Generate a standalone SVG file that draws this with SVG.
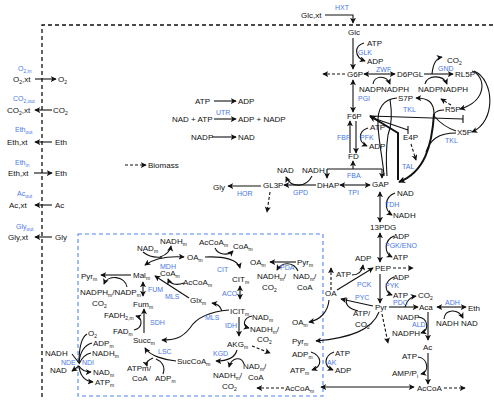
<svg xmlns="http://www.w3.org/2000/svg" width="494" height="401" viewBox="0 0 494 401">
<style>
text{font-family:"Liberation Sans",Arial,sans-serif;font-size:8px;fill:#111}
text.b{font-size:7px;fill:#4a78e6}
.s{font-size:5px}
.ln{fill:none;stroke:#111;stroke-width:1.1}
.tk{stroke-width:2}
.d{stroke-dasharray:3,2}
.box{fill:none;stroke:#4f86ee;stroke-width:1.1;stroke-dasharray:4,3}
.bd{fill:none;stroke:#111;stroke-width:1.3;stroke-dasharray:4,3}
</style>
<defs>
<marker id="a" viewBox="0 0 8 8" refX="7" refY="4" markerWidth="6" markerHeight="6" orient="auto-start-reverse" markerUnits="userSpaceOnUse"><path d="M0,0 L8,4 L0,8 L2,4 z" fill="#111"/></marker>
<marker id="at" viewBox="0 0 8 8" refX="7" refY="4" markerWidth="7" markerHeight="7" orient="auto-start-reverse" markerUnits="userSpaceOnUse"><path d="M0,0 L8,4 L0,8 L2,4 z" fill="#111"/></marker>
</defs>
<rect width="494" height="401" fill="#fff"/>
<path class="bd" d="M42,397 V25 H494"/>
<rect class="box" x="78" y="234" width="245" height="162"/>

<g id="connectors">
<path class="ln" d="M325,15 H353 V23" marker-end="url(#a)"/>
<path class="ln" d="M353,38 V69" marker-end="url(#a)"/>
<path class="ln" d="M364,43 C354,46 354,57 365,61" marker-end="url(#a)"/>
<path class="ln d" d="M345,74 H323" marker-end="url(#a)"/>
<path class="ln" d="M364,74 H395" marker-start="url(#a)" marker-end="url(#a)"/>
<path class="ln" d="M373,84 C374,76 386,74 390,84" marker-end="url(#a)"/>
<path class="ln" d="M424,74 H453" marker-end="url(#a)"/>
<path class="ln" d="M432,74 C433,64 436,58 442,57" marker-end="url(#a)"/>
<path class="ln" d="M425,84 C427,75 443,74 447,84" marker-end="url(#a)"/>
<path class="ln" d="M472,71 C486,76 488,101 460,109" marker-end="url(#a)"/>
<path class="ln" d="M474,71 C495,80 496,122 472,132" marker-end="url(#a)"/>
<path class="ln" d="M353,80 V112" marker-start="url(#a)" marker-end="url(#a)"/>
<path class="ln d" d="M451,105 L441,99" marker-end="url(#a)"/>
<path class="ln" d="M434,114 C434,102 428,98 416,98" marker-end="url(#a)"/>
<path class="ln" d="M444,110 C440,110 436,111 434,114"/>
<path class="ln" d="M456,131 C447,128 440,123 434,116"/>
<path class="ln tk" d="M434,114 C432,145 425,172 399,182" marker-end="url(#at)"/>
<path class="ln" d="M456,133 C438,133 430,140 426,152"/>
<path class="ln tk" d="M370,116 L398,133 L398,180" marker-start="url(#at)"/>
<path class="ln" d="M370,116 L463,119 M463,115 V123"/>
<path class="ln" d="M370,117 L408,130 M408,126 V134"/>
<path class="ln" d="M397,98 C384,99 377,108 378,125 C379,145 383,160 384,176"/>
<path class="ln" d="M390,99 C392,112 392,125 388,135 C386,148 386,162 387,176"/>
<path class="ln d" d="M411,144 L416,160" marker-end="url(#a)"/>
<path class="ln" d="M350,153 V121" marker-end="url(#a)"/>
<path class="ln" d="M356,121 V153" marker-end="url(#a)"/>
<path class="ln" d="M368,128 C358,131 358,142 367,146" marker-end="url(#a)"/>
<path class="ln" d="M353,169 V161" marker-end="url(#a)"/>
<path class="ln" d="M327,169 H382"/>
<path class="ln" d="M327,169 V178" marker-end="url(#a)"/>
<path class="ln" d="M382,169 V178" marker-end="url(#a)"/>
<path class="ln" d="M340,185 H370" marker-start="url(#a)" marker-end="url(#a)"/>
<path class="ln" d="M316,185 H284" marker-end="url(#a)"/>
<path class="ln" d="M312,176 C306,188 291,188 286,177" marker-end="url(#a)"/>
<path class="ln" d="M261,186 H228" marker-end="url(#a)"/>
<path class="ln d" d="M270,192 L267,212" marker-end="url(#a)"/>
<path class="ln" d="M380,192 V222" marker-start="url(#a)" marker-end="url(#a)"/>
<path class="ln" d="M395,193 C384,197 384,210 392,215" marker-end="url(#a)"/>
<path class="ln" d="M380,233 V262" marker-start="url(#a)" marker-end="url(#a)"/>
<path class="ln" d="M394,236 C384,240 384,253 392,257" marker-end="url(#a)"/>
<path class="ln d" d="M393,268 H413" marker-end="url(#a)"/>
<path class="ln" d="M337,290 L373,268" marker-end="url(#a)"/>
<path class="ln" d="M352,275 C358,275 362,272 363,265" marker-end="url(#a)"/>
<path class="ln d" d="M331,290 V268" marker-end="url(#a)"/>
<path class="ln" d="M380,274 V303" marker-end="url(#a)"/>
<path class="ln" d="M394,277 C384,281 384,292 392,295" marker-end="url(#a)"/>
<path class="ln" d="M373,306 L341,299" marker-end="url(#a)"/>
<path class="ln" d="M358,311 C350,309 344,305 347,298"/>
<path class="ln" d="M389,307 H418" marker-end="url(#a)"/>
<path class="ln" d="M405,307 C407,300 410,297 416,296" marker-end="url(#a)"/>
<path class="ln" d="M437,307 H466" marker-start="url(#a)" marker-end="url(#a)"/>
<path class="ln" d="M444,319 C445,309 458,308 463,318" marker-end="url(#a)"/>
<path class="ln" d="M428,312 V340" marker-end="url(#a)"/>
<path class="ln" d="M418,317 C428,318 430,330 421,333" marker-end="url(#a)"/>
<path class="ln" d="M428,353 V384" marker-end="url(#a)"/>
<path class="ln" d="M418,357 C428,358 430,372 421,374" marker-end="url(#a)"/>
<path class="ln d" d="M444,388 H465" marker-end="url(#a)"/>
<path class="ln" d="M321,387 H414" marker-start="url(#a)" marker-end="url(#a)"/>
<path class="ln" d="M379,312 C372,330 350,338 316,341" marker-end="url(#a)"/>
<path class="ln d" d="M382,314 L388,343" marker-end="url(#a)"/>
<path class="ln" d="M329,300 C328,312 320,320 309,322" marker-end="url(#a)"/>
<path class="ln" d="M334,352 C324,356 323,366 333,370" marker-end="url(#a)"/>
<path class="ln" d="M311,352 C322,356 323,366 312,370" marker-end="url(#a)"/>
<path class="ln" d="M296,262 H270" marker-end="url(#a)"/>
<path class="ln" d="M298,271 C294,262 282,261 277,270" marker-end="url(#a)"/>
<path class="ln d" d="M284,388 H257" marker-end="url(#a)"/>
<path class="ln" d="M184,257 C170,256 155,258 145,265" marker-start="url(#a)" marker-end="url(#a)"/>
<path class="ln" d="M143,252 C148,256 155,258 162,257"/>
<path class="ln" d="M160,257 C166,255 170,252 171,246" marker-end="url(#a)"/>
<path class="ln" d="M205,257 C225,256 238,260 240,268" marker-end="url(#a)"/>
<path class="ln" d="M215,248 C218,255 228,256 233,251" marker-end="url(#a)"/>
<path class="ln" d="M131,275 H101" marker-end="url(#a)"/>
<path class="ln" d="M127,287 C125,276 108,274 104,284" marker-end="url(#a)"/>
<path class="ln" d="M189,298 L155,276" marker-end="url(#a)"/>
<path class="ln" d="M184,283 C176,286 170,284 168,279" marker-end="url(#a)"/>
<path class="ln" d="M143,282 V296" marker-start="url(#a)" marker-end="url(#a)"/>
<path class="ln" d="M144,333 V309" marker-end="url(#a)"/>
<path class="ln" d="M134,330 C143,328 143,318 136,316" marker-end="url(#a)"/>
<path class="ln" d="M240,286 V299" marker-start="url(#a)" marker-end="url(#a)"/>
<path class="ln" d="M229,310 C205,312 195,320 190,328 C182,338 175,340 162,340" marker-end="url(#a)"/>
<path class="ln" d="M222,311 C220,306 218,304 212,303" marker-end="url(#a)"/>
<path class="ln" d="M239,317 V336" marker-end="url(#a)"/>
<path class="ln" d="M252,316 C243,318 242,326 249,328" marker-end="url(#a)"/>
<path class="ln d" d="M252,346 L270,353" marker-end="url(#a)"/>
<path class="ln" d="M237,350 C235,358 228,361 216,361" marker-end="url(#a)"/>
<path class="ln" d="M244,364 C242,357 232,356 229,367" marker-end="url(#a)"/>
<path class="ln" d="M176,361 C165,360 150,356 145,348" marker-end="url(#a)"/>
<path class="ln" d="M163,374 C166,366 161,361 156,359"/>
<path class="ln" d="M153,358 C148,360 146,363 147,366" marker-end="url(#a)"/>
<path class="ln" d="M72,354 L79,363"/>
<path class="ln" d="M79,366 L72,371" marker-end="url(#a)"/>
<path class="ln" d="M79,363 C79,346 82,337 87,334"/>
<path class="ln" d="M79,363 C80,351 85,345 92,343"/>
<path class="ln" d="M79,364 C82,357 86,354 91,353"/>
<path class="ln" d="M79,366 C82,371 86,372 91,372" marker-end="url(#a)"/>
<path class="ln" d="M79,366 C80,376 84,381 93,382" marker-end="url(#a)"/>
<path class="ln" d="M35,79 H56" marker-end="url(#a)"/>
<path class="ln" d="M52,110 H35" marker-end="url(#a)"/>
<path class="ln" d="M52,142 H35" marker-end="url(#a)"/>
<path class="ln" d="M34,173 H52" marker-end="url(#a)"/>
<path class="ln" d="M52,205 H35" marker-end="url(#a)"/>
<path class="ln" d="M52,237 H35" marker-end="url(#a)"/>
<path class="ln d" d="M125,165 H146" marker-end="url(#a)"/>
<path class="ln" d="M214,101 H236" marker-end="url(#a)"/>
<path class="ln" d="M214,119 H236" marker-end="url(#a)"/>
<path class="ln" d="M212,137 H236" marker-end="url(#a)"/>
</g>

<g id="cytosol">
<g id="n-glcxt"><text x="301" y="18">Glc,xt</text></g>
<g id="l-hxt"><text class="b" x="335" y="10">HXT</text></g>
<g id="n-glc"><text x="348" y="35">Glc</text></g>
<g id="n-atp1"><text x="367" y="46">ATP</text></g>
<g id="l-glk"><text class="b" x="358" y="55">GLK</text></g>
<g id="n-adp1"><text x="367" y="64">ADP</text></g>
<g id="l-zwf"><text class="b" x="376" y="72">ZWF</text></g>
<g id="n-g6p"><text x="347" y="77">G6P</text></g>
<g id="n-d6pgl"><text x="397" y="77">D6PGL</text></g>
<g id="n-nadp1"><text x="359" y="92">NADP</text></g>
<g id="n-nadph1"><text x="381" y="92">NADPH</text></g>
<g id="l-gnd"><text class="b" x="438" y="71">GND</text></g>
<g id="n-co2a"><text x="447" y="63">CO<tspan class="s" dy="1.5">2</tspan></text></g>
<g id="n-rl5p"><text x="455" y="77">RL5P</text></g>
<g id="n-nadp2"><text x="418" y="92">NADP</text></g>
<g id="n-nadph2"><text x="440" y="92">NADPH</text></g>
<g id="l-pgi"><text class="b" x="358" y="101">PGI</text></g>
<g id="n-s7p"><text x="398" y="101">S7P</text></g>
<g id="l-tkl1"><text class="b" x="403" y="112">TKL</text></g>
<g id="n-r5p"><text x="445" y="112">R5P</text></g>
<g id="n-f6p"><text x="347" y="119">F6P</text></g>
<g id="n-x5p"><text x="457" y="135">X5P</text></g>
<g id="l-tkl2"><text class="b" x="445" y="143">TKL</text></g>
<g id="n-e4p"><text x="403" y="140">E4P</text></g>
<g id="n-atp2"><text x="370" y="130">ATP</text></g>
<g id="l-pfk"><text class="b" x="360" y="140">PFK</text></g>
<g id="l-fbp"><text class="b" x="337" y="140">FBP</text></g>
<g id="n-adp2"><text x="369" y="149">ADP</text></g>
<g id="n-fd"><text x="348" y="159">FD</text></g>
<g id="l-fba"><text class="b" x="347" y="178">FBA</text></g>
<g id="l-tal"><text class="b" x="402" y="169">TAL</text></g>
<g id="n-gap"><text x="372" y="187">GAP</text></g>
<g id="n-dhap"><text x="317" y="188">DHAP</text></g>
<g id="l-tpi"><text class="b" x="348" y="195">TPI</text></g>
<g id="n-gl3p"><text x="263" y="188">GL3P</text></g>
<g id="n-nad3"><text x="277" y="173">NAD</text></g>
<g id="n-nadh3"><text x="302" y="173">NADH</text></g>
<g id="l-gpd"><text class="b" x="293" y="195">GPD</text></g>
<g id="n-gly"><text x="213" y="190">Gly</text></g>
<g id="l-hor"><text class="b" x="237" y="196">HOR</text></g>
<g id="n-nad4"><text x="397" y="196">NAD</text></g>
<g id="l-tdh"><text class="b" x="385" y="207">TDH</text></g>
<g id="n-nadh4"><text x="393" y="218">NADH</text></g>
<g id="n-13pdg"><text x="370" y="230">13PDG</text></g>
<g id="n-adp5"><text x="393" y="239">ADP</text></g>
<g id="l-pgk"><text class="b" x="385" y="248">PGK/ENO</text></g>
<g id="n-atp5"><text x="393" y="260">ATP</text></g>
<g id="n-adp6"><text x="355" y="261">ADP</text></g>
<g id="n-pep"><text x="375" y="271">PEP</text></g>
<g id="n-atp6"><text x="336" y="277">ATP</text></g>
<g id="l-pck"><text class="b" x="357" y="287">PCK</text></g>
<g id="n-adp7"><text x="393" y="280">ADP</text></g>
<g id="l-pyk"><text class="b" x="385" y="288">PYK</text></g>
<g id="n-atp7"><text x="393" y="298">ATP</text></g>
<g id="n-oa"><text x="325" y="296">OA</text></g>
<g id="l-pyc"><text class="b" x="355" y="300">PYC</text></g>
<g id="n-pyr"><text x="375" y="310">Pyr</text></g>
<g id="l-pdc"><text class="b" x="393" y="305">PDC</text></g>
<g id="n-co2b"><text x="418" y="298">CO<tspan class="s" dy="1.5">2</tspan></text></g>
<g id="n-aca"><text x="419" y="310">Aca</text></g>
<g id="l-adh"><text class="b" x="445" y="305">ADH</text></g>
<g id="n-eth"><text x="468" y="311">Eth</text></g>
<g id="n-atpco2"><text x="353" y="316">ATP/</text><text x="355" y="327">CO<tspan class="s" dy="1.5">2</tspan></text></g>
<g id="n-nadp8"><text x="397" y="320">NADP</text></g>
<g id="l-ald"><text class="b" x="412" y="327">ALD</text></g>
<g id="n-nadph8"><text x="392" y="336">NADPH</text></g>
<g id="n-nadh9"><text x="436" y="326">NADH</text></g>
<g id="n-nad9"><text x="461" y="326">NAD</text></g>
<g id="n-ac"><text x="423" y="350">Ac</text></g>
<g id="n-atp10"><text x="402" y="359">ATP</text></g>
<g id="n-amp"><text x="392" y="376">AMP/P<tspan class="s" dy="1.5">i</tspan></text></g>
<g id="n-accoa"><text x="417" y="391">AcCoA</text></g>
<g id="n-atp11"><text x="335" y="356">ATP</text></g>
<g id="l-ak"><text class="b" x="327" y="365">AK</text></g>
<g id="n-adp11"><text x="335" y="373">ADP</text></g>
<g id="n-atpadp"><text x="195" y="104">ATP</text><text x="238" y="104">ADP</text></g>
<g id="n-utr"><text x="172" y="122">NAD + ATP</text><text class="b" x="216" y="115">UTR</text><text x="238" y="122">ADP + NADP</text></g>
<g id="n-nadpnad"><text x="191" y="140">NADP</text><text x="238" y="140">NAD</text></g>
<g id="n-biomass"><text x="148" y="168">Biomass</text></g>
</g>

<g id="exchange">
<g id="x-o2"><text class="b" x="18" y="71">O<tspan class="s" dy="1.5">2,in</tspan></text><text x="13" y="82">O<tspan class="s" dy="1.5">2</tspan><tspan dy="-1.5">,xt</tspan></text><text x="58" y="82">O<tspan class="s" dy="1.5">2</tspan></text></g>
<g id="x-co2"><text class="b" x="13" y="101">CO<tspan class="s" dy="1.5">2,out</tspan></text><text x="7" y="113">CO<tspan class="s" dy="1.5">2</tspan><tspan dy="-1.5">,xt</tspan></text><text x="53" y="113">CO<tspan class="s" dy="1.5">2</tspan></text></g>
<g id="x-etho"><text class="b" x="15" y="132">Eth<tspan class="s" dy="1.5">out</tspan></text><text x="7" y="145">Eth,xt</text><text x="55" y="145">Eth</text></g>
<g id="x-ethi"><text class="b" x="15" y="165">Eth<tspan class="s" dy="1.5">in</tspan></text><text x="8" y="176">Eth,xt</text><text x="55" y="176">Eth</text></g>
<g id="x-ac"><text class="b" x="17" y="196">Ac<tspan class="s" dy="1.5">out</tspan></text><text x="9" y="208">Ac,xt</text><text x="55" y="208">Ac</text></g>
<g id="x-gly"><text class="b" x="16" y="229">Gly<tspan class="s" dy="1.5">out</tspan></text><text x="8" y="240">Gly,xt</text><text x="55" y="240">Gly</text></g>
</g>

<g id="mito">
<g id="m-pyrm2"><text x="297" y="265">Pyr<tspan class="s" dy="1.5">m</tspan></text></g>
<g id="m-oam2"><text x="250" y="265">OA<tspan class="s" dy="1.5">m</tspan></text></g>
<g id="l-pda"><text class="b" x="280" y="270">PDA</text></g>
<g id="m-nadhm2"><text x="257" y="279">NADH<tspan class="s" dy="1.5">m</tspan><tspan dy="-1.5">/</tspan></text><text x="262" y="290">CO<tspan class="s" dy="1.5">2</tspan></text></g>
<g id="m-nadm2"><text x="293" y="279">NAD<tspan class="s" dy="1.5">m</tspan><tspan dy="-1.5">/</tspan></text><text x="297" y="290">CoA</text></g>
<g id="m-oam3"><text x="292" y="325">OA<tspan class="s" dy="1.5">m</tspan></text></g>
<g id="m-pyrm3"><text x="292" y="344">Pyr<tspan class="s" dy="1.5">m</tspan></text></g>
<g id="m-adpm3"><text x="292" y="357">ADP<tspan class="s" dy="1.5">m</tspan></text></g>
<g id="m-atpm3"><text x="290" y="373">ATP<tspan class="s" dy="1.5">m</tspan></text></g>
<g id="m-accoam"><text x="285" y="391">AcCoA<tspan class="s" dy="1.5">m</tspan></text></g>
<g id="m-nadm1"><text x="137" y="251">NAD<tspan class="s" dy="1.5">m</tspan></text></g>
<g id="m-nadhm1"><text x="160" y="244">NADH<tspan class="s" dy="1.5">m</tspan></text></g>
<g id="m-accoam1"><text x="199" y="245">AcCoA<tspan class="s" dy="1.5">m</tspan></text></g>
<g id="m-coam1"><text x="233" y="249">CoA<tspan class="s" dy="1.5">m</tspan></text></g>
<g id="m-oam1"><text x="187" y="260">OA<tspan class="s" dy="1.5">m</tspan></text></g>
<g id="l-mdh"><text class="b" x="160" y="269">MDH</text></g>
<g id="l-cit"><text class="b" x="217" y="272">CIT</text></g>
<g id="m-malm"><text x="133" y="278">Mal<tspan class="s" dy="1.5">m</tspan></text></g>
<g id="m-pyrm1"><text x="81" y="279">Pyr<tspan class="s" dy="1.5">m</tspan></text></g>
<g id="m-coam2"><text x="160" y="276">CoA<tspan class="s" dy="1.5">m</tspan></text></g>
<g id="m-accoam2"><text x="183" y="285">AcCoA<tspan class="s" dy="1.5">m</tspan></text></g>
<g id="m-citm"><text x="232" y="282">CIT<tspan class="s" dy="1.5">m</tspan></text></g>
<g id="m-nadphm"><text x="80" y="295">NADPH<tspan class="s" dy="1.5">m</tspan><tspan dy="-1.5">/NADP</tspan><tspan class="s" dy="1.5">m</tspan></text><text x="92" y="306">CO<tspan class="s" dy="1.5">2</tspan></text></g>
<g id="l-fum"><text class="b" x="148" y="292">FUM</text></g>
<g id="l-mls1"><text class="b" x="165" y="299">MLS</text></g>
<g id="l-aco"><text class="b" x="222" y="296">ACO</text></g>
<g id="m-glxm"><text x="190" y="303">Glx<tspan class="s" dy="1.5">m</tspan></text></g>
<g id="m-fumm"><text x="133" y="307">Fum<tspan class="s" dy="1.5">m</tspan></text></g>
<g id="m-icitm"><text x="230" y="314">ICIT<tspan class="s" dy="1.5">m</tspan></text></g>
<g id="m-fadh2"><text x="104" y="318">FADH<tspan class="s" dy="1.5">2,m</tspan></text></g>
<g id="l-mls2"><text class="b" x="205" y="320">MLS</text></g>
<g id="m-nadm3"><text x="252" y="320">NAD<tspan class="s" dy="1.5">m</tspan></text></g>
<g id="l-sdh"><text class="b" x="150" y="325">SDH</text></g>
<g id="l-idh"><text class="b" x="225" y="328">IDH</text></g>
<g id="m-nadhm3"><text x="250" y="332">NADH<tspan class="s" dy="1.5">m</tspan><tspan dy="-1.5">/</tspan></text><text x="257" y="342">CO<tspan class="s" dy="1.5">2</tspan></text></g>
<g id="m-fadm"><text x="113" y="334">FAD<tspan class="s" dy="1.5">m</tspan></text></g>
<g id="m-succm"><text x="133" y="343">Succ<tspan class="s" dy="1.5">m</tspan></text></g>
<g id="m-akgm"><text x="227" y="347">AKG<tspan class="s" dy="1.5">m</tspan></text></g>
<g id="l-lsc"><text class="b" x="158" y="354">LSC</text></g>
<g id="l-kgd"><text class="b" x="213" y="356">KGD</text></g>
<g id="m-succoam"><text x="177" y="364">SucCoA<tspan class="s" dy="1.5">m</tspan></text></g>
<g id="m-nadm4"><text x="243" y="369">NAD<tspan class="s" dy="1.5">m</tspan><tspan dy="-1.5">/</tspan></text><text x="248" y="380">CoA</text></g>
<g id="m-nadhm4"><text x="213" y="378">NADH<tspan class="s" dy="1.5">m</tspan><tspan dy="-1.5">/</tspan></text><text x="222" y="389">CO<tspan class="s" dy="1.5">2</tspan></text></g>
<g id="m-atpcoa"><text x="127" y="371">ATPm/</text><text x="132" y="381">CoA</text></g>
<g id="m-adpm4"><text x="155" y="381">ADP<tspan class="s" dy="1.5">m</tspan></text></g>
<g id="m-ndi"><text x="45" y="356">NADH</text><text x="50" y="373">NAD</text><text class="b" x="61" y="365">NDE</text><text class="b" x="82" y="365">NDI</text><text x="88" y="336">O<tspan class="s" dy="1.5">2</tspan></text><text x="93" y="346">ADP<tspan class="s" dy="1.5">m</tspan></text><text x="92" y="356">NADH<tspan class="s" dy="1.5">m</tspan></text><text x="93" y="375">NAD<tspan class="s" dy="1.5">m</tspan></text><text x="95" y="385">ATP<tspan class="s" dy="1.5">m</tspan></text></g>
</g>
</svg>
